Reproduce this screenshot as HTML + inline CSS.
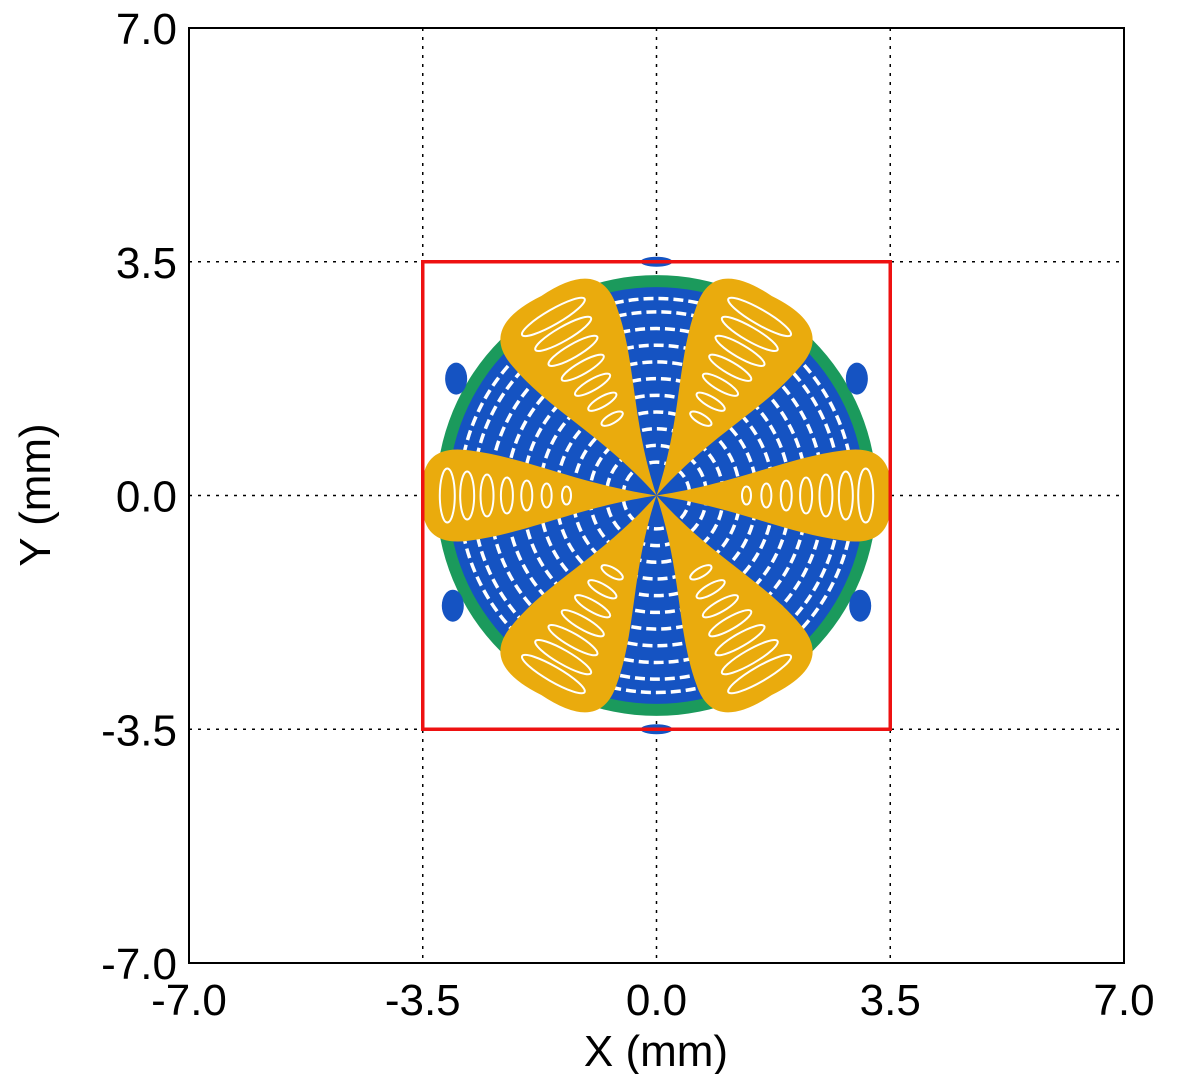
<!DOCTYPE html>
<html><head><meta charset="utf-8"><style>
body{margin:0;background:#fff}
svg text{font-family:"Liberation Sans",sans-serif;font-size:44px;fill:#000}
</style></head><body>
<svg id="chart" width="1200" height="1074" viewBox="0 0 1200 1074" xmlns="http://www.w3.org/2000/svg">
<g id="grid"></g>
<g id="marks"></g>
<rect x="189" y="28" width="935" height="935" fill="none" stroke="#000" stroke-width="2"/>
<g id="ticks"></g>
<text x="656" y="1066" text-anchor="middle" font-size="45">X (mm)</text>
<text transform="translate(50,495) rotate(-90)" text-anchor="middle" font-size="45">Y (mm)</text>
</svg>
<script>
const tickValues = [-7.0, -3.5, 0.0, 3.5, 7.0];
const gridValues = [-3.5, 0.0, 3.5];
const detectorHalf = [3.5];
const greenRadius = [3.3];
const blueRadius = [3.12];
const petalAngles = [0, 60, 120, 180, 240, 300];
const petalLengths = [3.5, 3.45, 3.45, 3.5, 3.45, 3.45];
const petalHalfWidths = [0.75, 1.0, 1.0, 0.75, 1.0, 1.0];
const ringRadii = [0.5, 0.75, 1.0, 1.25, 1.5, 1.75, 2.0, 2.25, 2.5, 2.75, 2.95];
const blobX = [-3.0, 3.0, -3.05, 3.05, 0.0, 0.0];
const blobY = [1.75, 1.75, -1.65, -1.65, 3.5, -3.5];

const X0 = 189, X1 = 1124, Y0 = 963, Y1 = 28, MIN = -7, MAX = 7;
const sx = v => X0 + (v - MIN) / (MAX - MIN) * (X1 - X0);
const sy = v => Y0 - (v - MIN) / (MAX - MIN) * (Y0 - Y1);
const k = (X1 - X0) / (MAX - MIN);
const NS = "http://www.w3.org/2000/svg";
function mk(tag, parent, attrs){const e=document.createElementNS(NS,tag);for(const a in attrs)e.setAttribute(a,attrs[a]);parent.appendChild(e);return e;}

const grid = document.getElementById('grid');
gridValues.forEach(v=>{
  const l1 = mk('line', grid, {x1:sx(v),x2:sx(v),y1:Y1,y2:Y0,stroke:'#000','stroke-width':1.5,'stroke-dasharray':'3,6'});
  
  
  const l2 = mk('line', grid, {x1:X0,x2:X1,y1:sy(v),y2:sy(v),stroke:'#000','stroke-width':1.5,'stroke-dasharray':'3,6'});
  
  
});

const ticks = document.getElementById('ticks');
tickValues.forEach(v=>{
  const t = mk('text', ticks, {x:sx(v), y:1015, 'text-anchor':'middle'});
  t.textContent = v.toFixed(1);
  
  
  const u = mk('text', ticks, {x:177, y:sy(v)+16, 'text-anchor':'end'});
  u.textContent = v.toFixed(1);
  
  
});

const marks = document.getElementById('marks');
const cx = sx(0), cy = sy(0);
const g = mk('circle', marks, {cx:cx, cy:cy, r:greenRadius[0]*k, fill:'#1b9a5c'});


const b = mk('circle', marks, {cx:cx, cy:cy, r:blueRadius[0]*k, fill:'#1553c2'});


ringRadii.forEach(r=>{
  const c = mk('circle', marks, {cx:cx, cy:cy, r:r*k, fill:'none', stroke:'#fff','stroke-width':3.5,'stroke-dasharray':'10,5'});
  
  
});
blobX.forEach((x,i)=>{
  const e = mk('ellipse', marks, {cx:sx(x), cy:sy(blobY[i]), rx:i<4?11:16, ry:i<4?16:5, fill:'#1553c2'});
  
  
});
petalAngles.forEach((a,i)=>{
  const L = petalLengths[i]*k, w = petalHalfWidths[i]*k;
  const grp = mk('g', marks, {transform:`translate(${cx},${cy}) rotate(${-a})`});
  
  
  mk('path', grp, {d:`M0 0 C${L*0.35} ${-w*0.25} ${L*0.55} ${-w*0.75} ${L*0.8} ${-w*0.9} Q${L*1.02} ${-w*1.05} ${L} 0 Q${L*1.02} ${w*1.05} ${L*0.8} ${w*0.9} C${L*0.55} ${w*0.75} ${L*0.35} ${w*0.25} 0 0 Z`, fill:'#eaab0d'});
  for(let j=1;j<8;j++){
    const px = L*(0.3+j*0.085);
    mk('ellipse', grp, {cx:px, cy:0, rx:4+j*0.5, ry:w*(0.12+j*0.06), fill:'none', stroke:'#fff','stroke-width':2});
  }
});
const sq = mk('rect', marks, {x:sx(-detectorHalf[0]), y:sy(detectorHalf[0]), width:2*detectorHalf[0]*k, height:2*detectorHalf[0]*k, fill:'none', stroke:'#ee1111','stroke-width':3.5});


</script>
</body></html>
